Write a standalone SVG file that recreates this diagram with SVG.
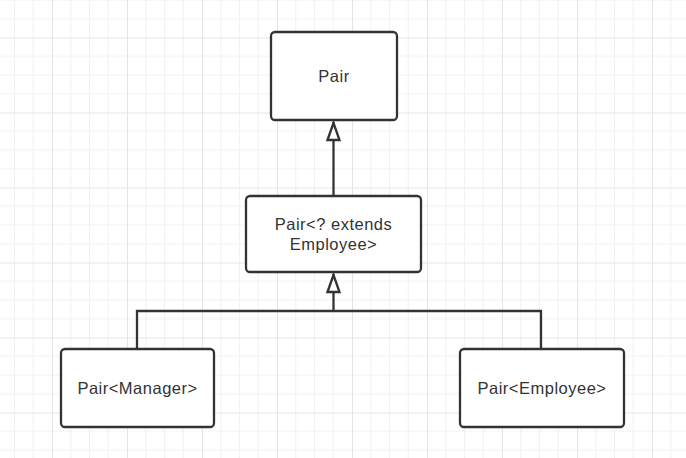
<svg xmlns="http://www.w3.org/2000/svg" width="686" height="458" viewBox="0 0 686 458">
<style>
.node rect{fill:#ffffff;stroke:#333333;stroke-width:2.3}
.node text{font-family:"Liberation Sans",Arial,sans-serif;font-size:16.5px;letter-spacing:0.5px;fill:#333333;text-anchor:middle}
.conn path{fill:none;stroke:#333333;stroke-width:2.3}
</style>
<defs>
<pattern id="grid" patternUnits="userSpaceOnUse" x="52" y="37.5" width="75" height="75">
<rect width="75" height="75" fill="#ffffff"/>
<path d="M18.75,0V75M37.5,0V75M56.25,0V75M0,18.75H75M0,37.5H75M0,56.25H75" stroke="#f1f1f1" stroke-width="1"/>
<path d="M0.5,0V75M0,0.5H75" stroke="#e4e4e4" stroke-width="1"/>
</pattern>
<marker id="inh" markerUnits="userSpaceOnUse" markerWidth="24" markerHeight="18" refX="18" refY="6" orient="auto" viewBox="-2 -3 24 18" overflow="visible">
<path d="M0,0 L17,6 L0,12 Z" fill="#ffffff" stroke="#333333" stroke-width="2.3"/>
</marker>
</defs>
<rect width="686" height="458" fill="url(#grid)"/>
<g id="connectors" class="conn">
<path d="M333.5,196 V122" marker-end="url(#inh)"/>
<path d="M137,349 V311 H541 V349"/>
<path d="M333.5,311 V274" marker-end="url(#inh)"/>
</g>
<g id="pair" class="node">
<rect x="271" y="32" width="126" height="88" rx="4"/>
<text x="334" y="82">Pair</text>
</g>
<g id="pair-extends" class="node">
<rect x="246" y="196" width="175" height="76" rx="4"/>
<text x="333.5" y="230">Pair&lt;? extends</text>
<text x="333.5" y="250">Employee&gt;</text>
</g>
<g id="pair-manager" class="node">
<rect x="61" y="349" width="153" height="78" rx="4"/>
<text x="137.5" y="394">Pair&lt;Manager&gt;</text>
</g>
<g id="pair-employee" class="node">
<rect x="460" y="349" width="164" height="78" rx="4"/>
<text x="542" y="394">Pair&lt;Employee&gt;</text>
</g>
</svg>
